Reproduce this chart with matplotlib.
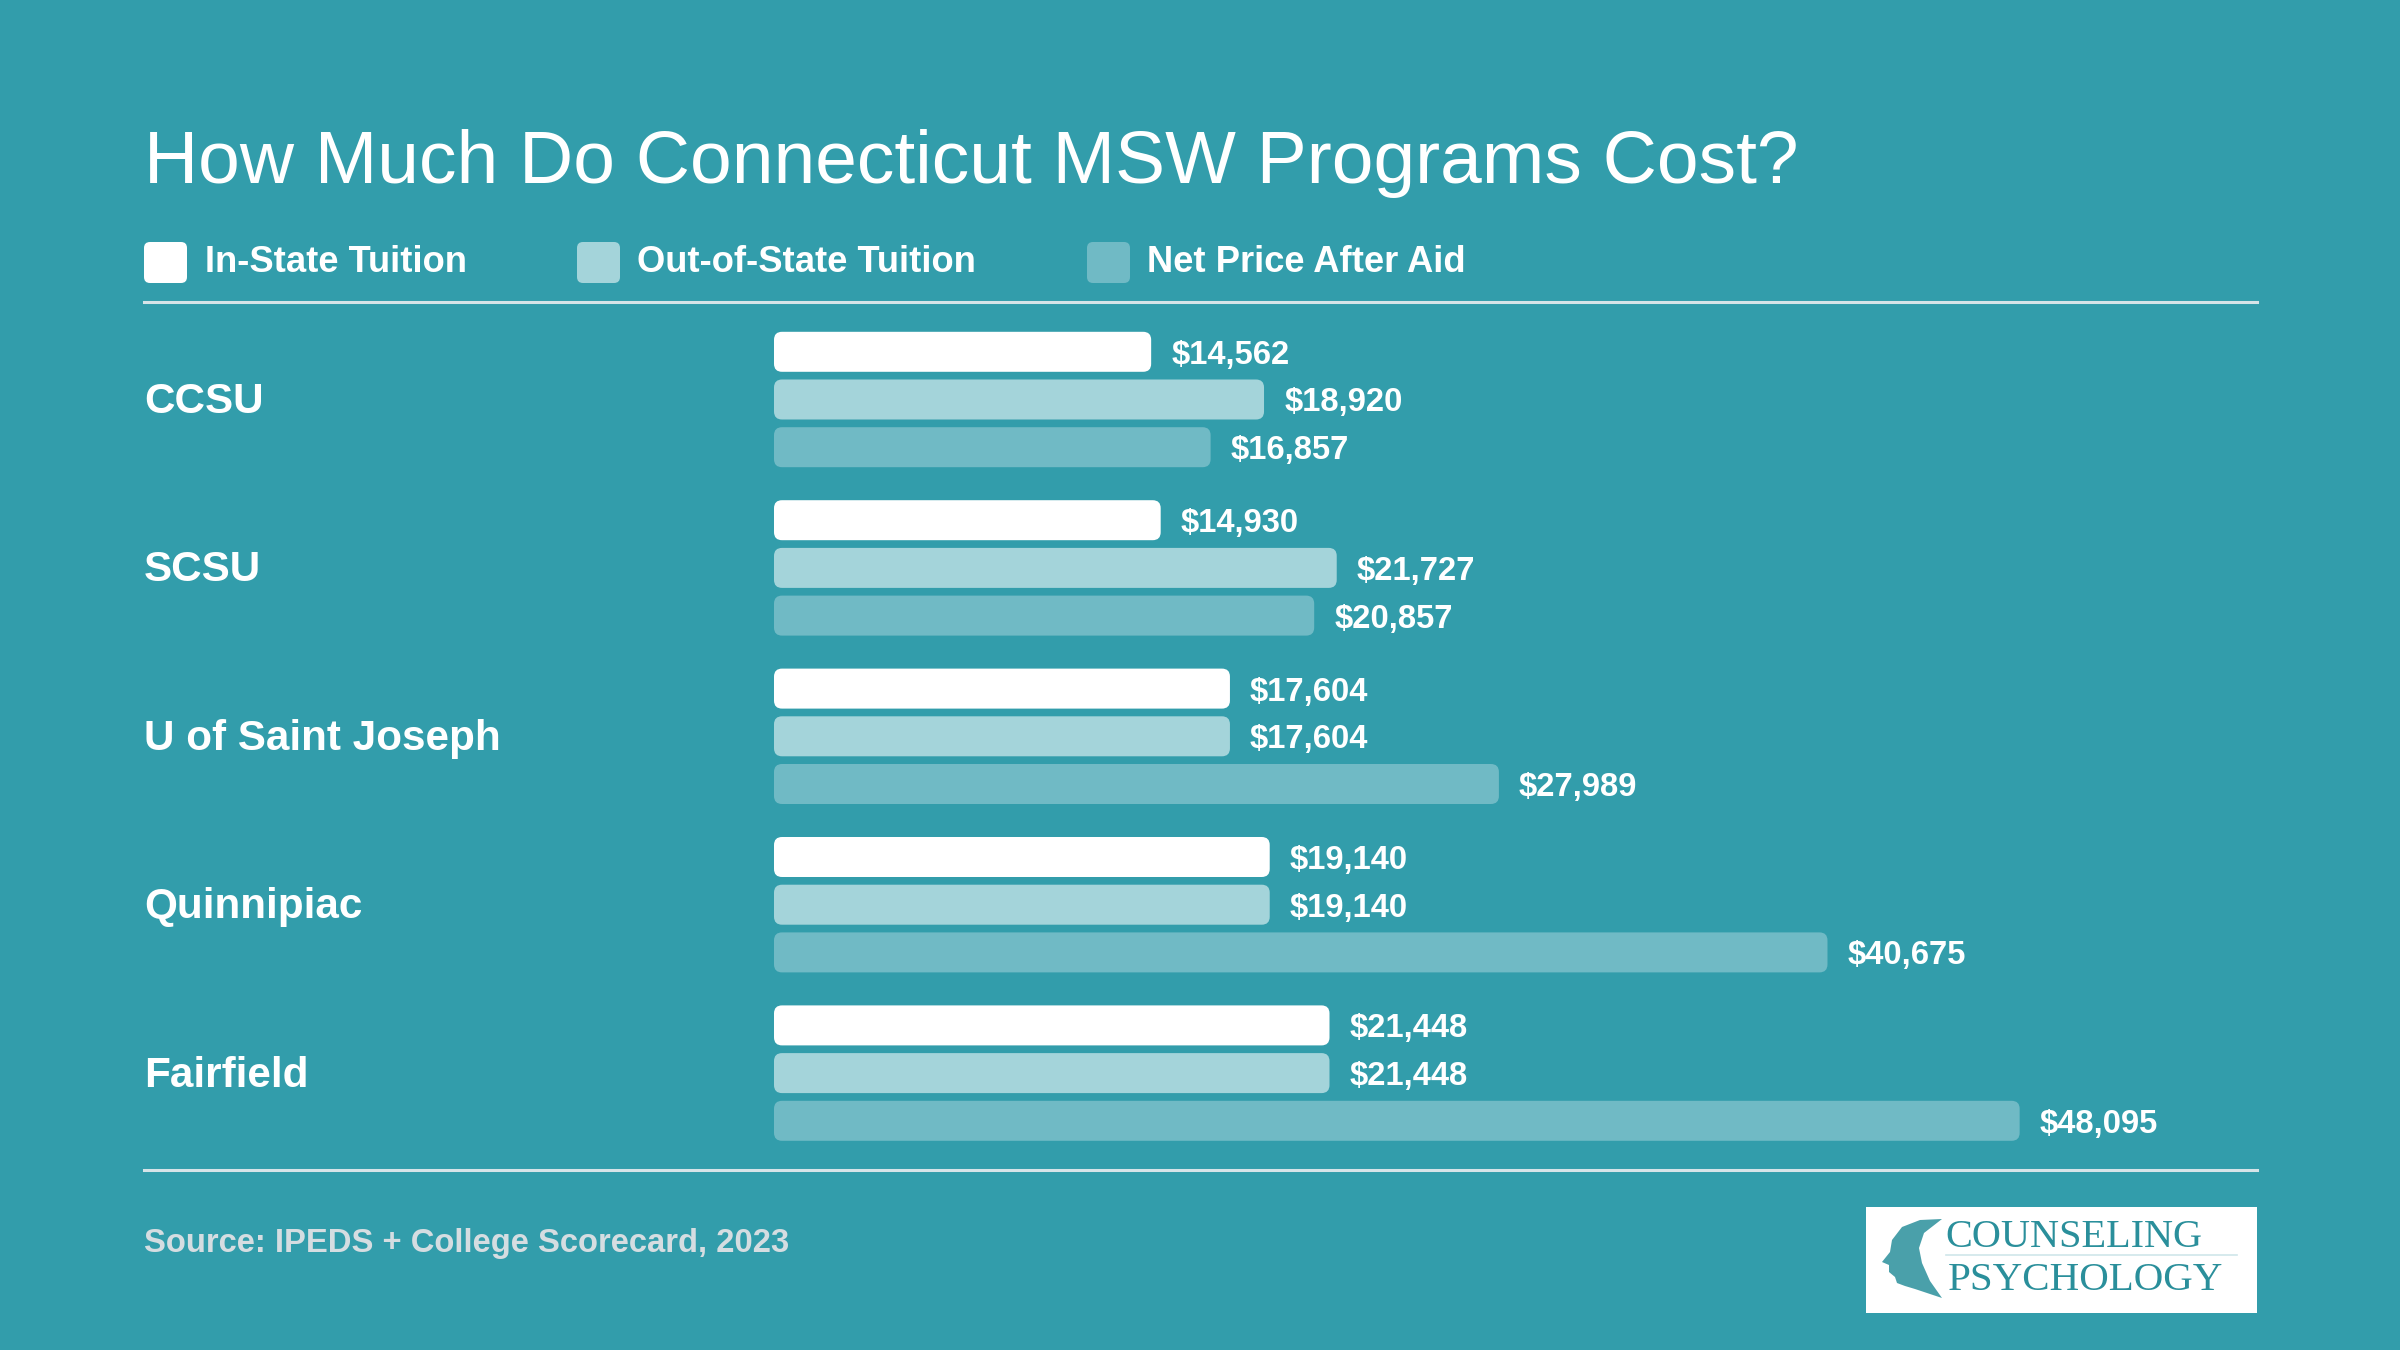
import matplotlib.pyplot as plt
from matplotlib.patches import FancyBboxPatch, Polygon
from matplotlib import transforms

plt.rcParams['font.family'] = ['Liberation Sans', 'DejaVu Sans']

# ---- data ----
schools = ['CCSU', 'SCSU', 'U of Saint Joseph', 'Quinnipiac', 'Fairfield']
in_state = [14562, 14930, 17604, 19140, 21448]
out_state = [18920, 21727, 17604, 19140, 21448]
net_price = [16857, 20857, 27989, 40675, 48095]
series_names = ['In-State Tuition', 'Out-of-State Tuition', 'Net Price After Aid']

# ---- style ----
BG = '#329dab'
COLORS = ['#ffffff', '#a4d4da', '#70bac5']
LINE = '#d6e4e8'
LOGO = '#2a8f9b'

W, H = 2400, 1350
fig = plt.figure(figsize=(24, 13.5), dpi=100, facecolor=BG)

# overlay axes in pixel coords for decorations
deco = fig.add_axes([0, 0, 1, 1])
deco.set_xlim(0, W)
deco.set_ylim(H, 0)
deco.axis('off')
deco.set_zorder(0)

# bar axes: x=0 at px 774, 0.0259 px per dollar
x0_px, x1_px = 774, 2257
px_per_dollar = 0.0259
y_top_px, y_bot_px = 310, 1160
grp0_px, grp_pitch = 399.5, 168.4
ax = fig.add_axes([x0_px / W, 1 - y_bot_px / H, (x1_px - x0_px) / W, (y_bot_px - y_top_px) / H])
ax.set_xlim(0, (x1_px - x0_px) / px_per_dollar)
ax.set_ylim(4 + (y_bot_px - (grp0_px + 4 * grp_pitch)) / grp_pitch,
            -(grp0_px - y_top_px) / grp_pitch)
ax.axis('off')
ax.patch.set_alpha(0)
ax.set_zorder(1)

bar_h = 40 / grp_pitch
offs = [-47.7 / grp_pitch, 0, 47.7 / grp_pitch]
rx = 8 / px_per_dollar
aspect = (8 / grp_pitch) / rx

for i, name in enumerate(schools):
    vals = [in_state[i], out_state[i], net_price[i]]
    for j, v in enumerate(vals):
        yc = i + offs[j]
        p = FancyBboxPatch((0, yc - bar_h / 2), v, bar_h,
                           boxstyle=f'round,pad=0,rounding_size={rx}',
                           mutation_aspect=aspect, fc=COLORS[j], ec='none')
        ax.add_patch(p)
        ax.annotate(f'${v:,}', (v, yc), xytext=(14.5, -2.5), textcoords='offset points',
                    ha='left', va='center', color='white', fontsize=23.6,
                    fontweight='bold')

# school labels
tr = transforms.blended_transform_factory(fig.transFigure, ax.transData)
for i, name in enumerate(schools):
    ax.text(144 / W, i + 2.5 / grp_pitch, name, transform=tr, ha='left', va='center',
            color='white', fontsize=30.4, fontweight='bold')

# title
deco.text(144, 183, 'How Much Do Connecticut MSW Programs Cost?', ha='left',
          va='baseline', color='white', fontsize=54)

# legend
leg_sq_x = [144, 577, 1087]
leg_txt_x = [205, 637, 1147]
for j in range(3):
    deco.add_patch(FancyBboxPatch((leg_sq_x[j], 242), 43, 41,
                                  boxstyle='round,pad=0,rounding_size=6',
                                  fc=COLORS[j], ec='none'))
    deco.text(leg_txt_x[j], 272, series_names[j], ha='left', va='baseline',
              color='white', fontsize=26.2, fontweight='bold')

# separators
deco.plot([144, 2257], [302, 302], color=LINE, lw=2.2)
deco.plot([144, 2257], [1170, 1170], color=LINE, lw=2.2)

# source
deco.text(144, 1252, 'Source: IPEDS + College Scorecard, 2023', ha='left',
          va='baseline', color='#d5dde1', fontsize=23.6, fontweight='bold')

# logo
deco.add_patch(plt.Rectangle((1866, 1207), 391, 106, fc='white', ec='none'))
head = [(1942, 1219), (1920, 1220), (1902, 1227), (1892, 1240), (1890, 1252),
        (1882, 1262), (1889, 1265), (1889, 1272), (1895, 1277), (1897, 1283),
        (1905, 1286), (1915, 1289), (1942, 1298), (1930, 1281), (1922, 1263),
        (1919, 1248), (1924, 1233)]
deco.add_patch(Polygon(head, closed=True, fc=LOGO, ec='none', alpha=0.85))
deco.text(1945, 1247, 'COUNSELING', ha='left', va='baseline', color=LOGO,
          fontsize=29, family=['Liberation Serif', 'DejaVu Serif'])
deco.plot([1946, 2237], [1255, 1255], color='#cfe6ea', lw=1.2)
deco.text(1948, 1290, 'PSYCHOLOGY', ha='left', va='baseline', color=LOGO,
          fontsize=29.5, family=['Liberation Serif', 'DejaVu Serif'])

fig.savefig('out.png', dpi=100, facecolor=BG)
